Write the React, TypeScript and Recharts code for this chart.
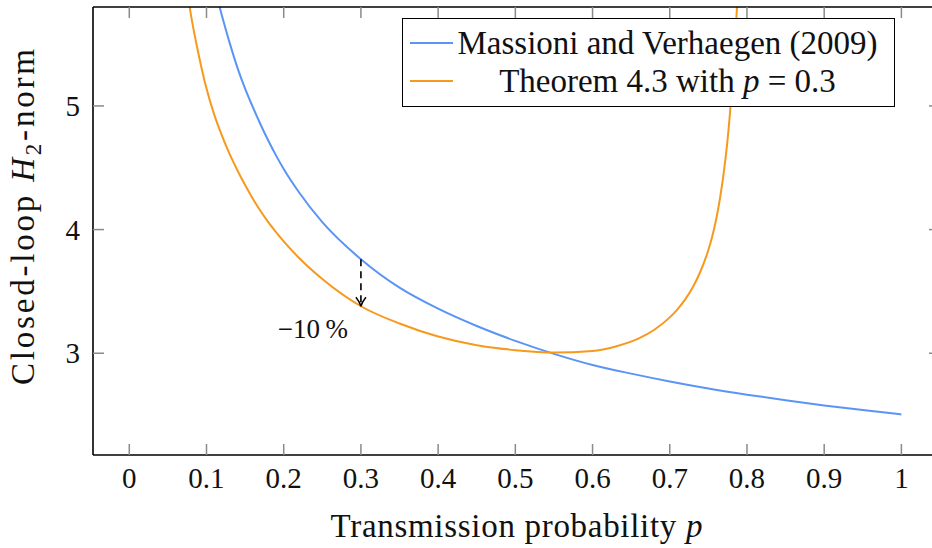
import { LineChart, Line, XAxis, YAxis, Legend, ReferenceLine } from 'recharts'

// Massioni and Verhaegen (2009) bound, read at sample probabilities
const massioniP = [0.11, 0.12, 0.13, 0.14, 0.15, 0.16, 0.17, 0.18, 0.19, 0.2, 0.22, 0.25, 0.3, 0.35, 0.4, 0.45, 0.5, 0.55, 0.6, 0.65, 0.7, 0.75, 0.8, 0.85, 0.9, 0.95, 1]
const massioniNorm = [5.97, 5.73, 5.51, 5.31, 5.14, 4.99, 4.85, 4.72, 4.6, 4.49, 4.3, 4.06, 3.76, 3.53, 3.36, 3.22, 3.1, 2.995, 2.905, 2.835, 2.772, 2.715, 2.665, 2.62, 2.578, 2.54, 2.505]

// Theorem 4.3 with the controller designed for p = 0.3
const theoremP = [0.075, 0.08, 0.09, 0.1, 0.11, 0.12, 0.13, 0.14, 0.15, 0.16, 0.17, 0.18, 0.19, 0.2, 0.22, 0.25, 0.3, 0.35, 0.4, 0.45, 0.5, 0.55, 0.6, 0.63, 0.66, 0.68, 0.7, 0.71, 0.72, 0.73, 0.74, 0.75, 0.755, 0.76, 0.765, 0.77, 0.775, 0.78, 0.785, 0.79]
const theoremNorm = [5.93, 5.73, 5.41, 5.14, 4.93, 4.76, 4.61, 4.48, 4.36, 4.25, 4.15, 4.06, 3.98, 3.905, 3.77, 3.6, 3.38, 3.24, 3.135, 3.065, 3.025, 3.005, 3.018, 3.055, 3.12, 3.19, 3.29, 3.355, 3.435, 3.535, 3.665, 3.835, 3.945, 4.08, 4.25, 4.465, 4.735, 5.1, 5.56, 6.15]

const seriesNames = ['Massioni and Verhaegen (2009)', 'Theorem 4.3 with p = 0.3']
const xTicks = [0, 0.1, 0.2, 0.3, 0.4, 0.5, 0.6, 0.7, 0.8, 0.9, 1]
const yTicks = [3, 4, 5]
const designP = 0.3
const reductionLabel = '\u221210\u2009%'

const massioniData = massioniP.map((p, i) => ({ p, norm: massioniNorm[i] }))
const theoremData = theoremP.map((p, i) => ({ p, norm: theoremNorm[i] }))
const massioniAtDesign = massioniNorm[massioniP.indexOf(designP)]
const theoremAtDesign = theoremNorm[theoremP.indexOf(designP)]

const FONT = '"Liberation Serif", "Times New Roman", serif'
const TICK_COLOR = '#8a8a8a'
const TICK_LEN = 11
const BLUE = '#5a95f5'
const ORANGE = '#f7991c'
const X_DOMAIN = [-0.047, 1.05]
const Y_DOMAIN = [2.177, 5.8]

// puts a lone "p" in italics, like a math variable
function mathText(s: string) {
    return s.split(' ').map((w, i) => (
        <span key={i}>
            {i > 0 ? ' ' : ''}
            {w === 'p' ? <i>p</i> : w}
        </span>
    ))
}

function BottomTick({ x, y, payload }: any) {
    return (
        <g>
            <line x1={x} y1={y} x2={x} y2={y - TICK_LEN} stroke={TICK_COLOR} strokeWidth={1.5} />
            <text x={x} y={y + 33} textAnchor="middle" fontFamily={FONT} fontSize={29} fill="#111">
                {String(payload.value)}
            </text>
        </g>
    )
}

function TopTick({ x, y }: any) {
    return <line x1={x} y1={y} x2={x} y2={y + TICK_LEN} stroke={TICK_COLOR} strokeWidth={1.5} />
}

function LeftTick({ x, y, payload }: any) {
    return (
        <g>
            <line x1={x} y1={y} x2={x + TICK_LEN} y2={y} stroke={TICK_COLOR} strokeWidth={1.5} />
            <text x={x - 13} y={y + 10} textAnchor="end" fontFamily={FONT} fontSize={29} fill="#111">
                {String(payload.value)}
            </text>
        </g>
    )
}

function RightTick({ x, y }: any) {
    return <line x1={x} y1={y} x2={x - TICK_LEN} y2={y} stroke={TICK_COLOR} strokeWidth={1.5} />
}

function XTitle({ viewBox }: any) {
    const cx = viewBox.x + viewBox.width / 2
    return (
        <text x={cx} y={537} textAnchor="middle" textLength={372} lengthAdjust="spacing" fontFamily={FONT} fontSize={33} fill="#111">
            Transmission probability <tspan fontStyle="italic">p</tspan>
        </text>
    )
}

function YTitle() {
    return (
        <text transform="translate(34, 217) rotate(-90)" textAnchor="middle" textLength={336} lengthAdjust="spacing" fontFamily={FONT} fontSize={33} fill="#111">
            Closed-loop <tspan fontStyle="italic">H</tspan>
            <tspan dy={7} fontSize={23}>2</tspan>
            <tspan dy={-7}>-norm</tspan>
        </text>
    )
}

function LegendBox({ payload }: any) {
    return (
        <div
            style={{
                width: 493,
                height: 89,
                boxSizing: 'border-box',
                border: '1.5px solid #000',
                background: '#fff',
                fontFamily: FONT,
                fontSize: 33,
                lineHeight: '38px',
                color: '#111',
                paddingTop: 5,
            }}
        >
            {(payload || []).map((entry: any) => (
                <div key={entry.value} style={{ display: 'flex', alignItems: 'center', height: 38 }}>
                    <span style={{ display: 'inline-block', width: 43, height: 2, marginLeft: 7, background: entry.color }} />
                    <span style={{ flex: 1, textAlign: 'center', paddingRight: 12, whiteSpace: 'nowrap' }}>{mathText(entry.value)}</span>
                </div>
            ))}
        </div>
    )
}

// dashed drop from one curve to the other at the design probability
function ReductionArrow({ x1, y1, x2, y2 }: any) {
    const top = Math.min(y1, y2)
    const tip = Math.max(y1, y2)
    return (
        <g>
            <line x1={x1} y1={top} x2={x1} y2={tip - 2} stroke="#000" strokeWidth={1.6} strokeDasharray="7 5" />
            <path
                d={`M ${x1 - 5} ${tip - 9} Q ${x1 - 1} ${tip - 4} ${x1} ${tip} Q ${x1 + 1} ${tip - 4} ${x1 + 5} ${tip - 9}`}
                fill="none"
                stroke="#000"
                strokeWidth={1.5}
            />
            <text x={x2 - 13} y={tip + 32} textAnchor="end" fontFamily={FONT} fontSize={27} fill="#111">
                {reductionLabel}
            </text>
        </g>
    )
}

export default function App() {
    return (
        <div style={{ position: 'absolute', left: 0, top: 0, width: 932, height: 548, overflow: 'hidden', background: '#fff' }}>
            <LineChart width={950} height={548} margin={{ top: 6, right: 9, bottom: 92, left: 92 }}>
                <XAxis
                    dataKey="p"
                    type="number"
                    domain={X_DOMAIN}
                    allowDataOverflow
                    ticks={xTicks}
                    height={1}
                    tickSize={0}
                    tickMargin={0}
                    tickLine={false}
                    tick={<BottomTick />}
                    axisLine={{ stroke: '#000', strokeWidth: 1.6 }}
                    label={{ content: <XTitle /> }}
                />
                <XAxis
                    xAxisId="top"
                    orientation="top"
                    dataKey="p"
                    type="number"
                    domain={X_DOMAIN}
                    allowDataOverflow
                    ticks={xTicks}
                    height={1}
                    tickSize={0}
                    tickMargin={0}
                    tickLine={false}
                    tick={<TopTick />}
                    axisLine={{ stroke: '#000', strokeWidth: 1.6 }}
                />
                <YAxis
                    type="number"
                    domain={Y_DOMAIN}
                    allowDataOverflow
                    ticks={yTicks}
                    width={1}
                    tickSize={0}
                    tickMargin={0}
                    tickLine={false}
                    tick={<LeftTick />}
                    axisLine={{ stroke: '#000', strokeWidth: 1.6 }}
                    label={{ content: <YTitle /> }}
                />
                <YAxis
                    yAxisId="right"
                    orientation="right"
                    type="number"
                    domain={Y_DOMAIN}
                    allowDataOverflow
                    ticks={yTicks}
                    width={1}
                    tickSize={0}
                    tickMargin={0}
                    tickLine={false}
                    tick={<RightTick />}
                    axisLine={{ stroke: '#000', strokeWidth: 1.6 }}
                />
                <Line
                    data={massioniData}
                    dataKey="norm"
                    name={seriesNames[0]}
                    type="monotone"
                    stroke={BLUE}
                    strokeWidth={2}
                    dot={false}
                    isAnimationActive={false}
                />
                <Line
                    data={theoremData}
                    dataKey="norm"
                    name={seriesNames[1]}
                    type="monotone"
                    stroke={ORANGE}
                    strokeWidth={2}
                    dot={false}
                    isAnimationActive={false}
                />
                <ReferenceLine
                    segment={[
                        { x: designP, y: massioniAtDesign },
                        { x: designP, y: theoremAtDesign },
                    ]}
                    shape={(props: any) => <ReductionArrow {...props} />}
                />
                <Legend
                    layout="vertical"
                    align="center"
                    verticalAlign="middle"
                    content={<LegendBox />}
                    wrapperStyle={{ left: 402, top: 18, width: 493, height: 89 }}
                />
            </LineChart>
        </div>
    )
}
